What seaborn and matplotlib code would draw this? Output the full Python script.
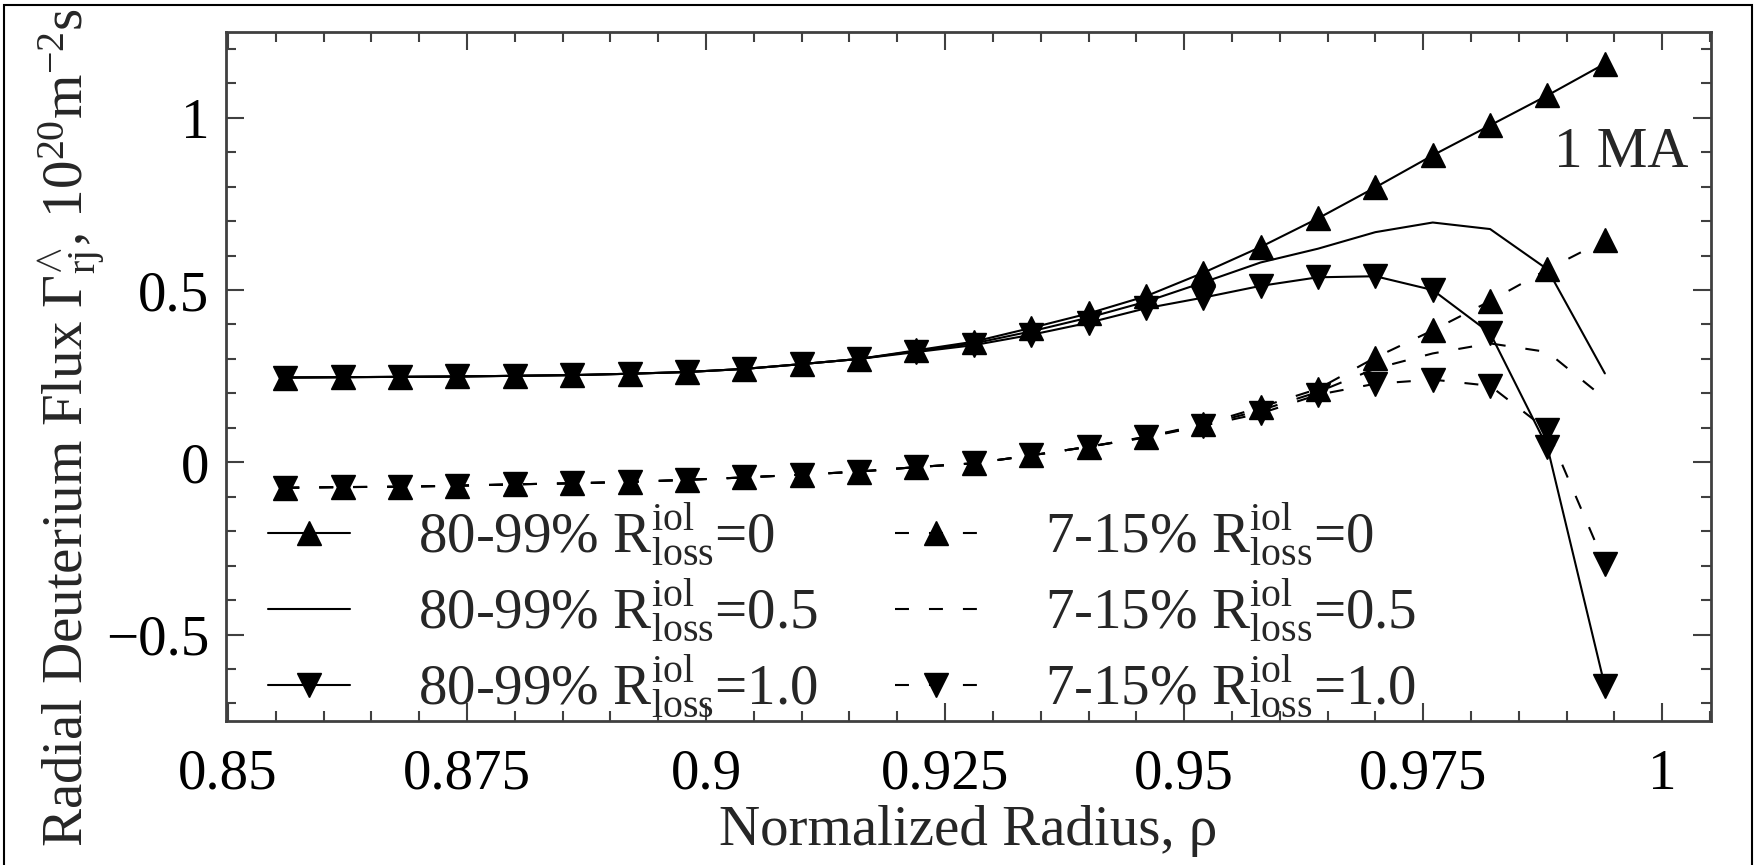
import matplotlib
matplotlib.use("Agg")
import matplotlib.pyplot as plt
import seaborn as sns
from matplotlib.ticker import MultipleLocator, FuncFormatter
from matplotlib.patches import Rectangle

# ---------------- data ----------------
rho = [0.856, 0.862, 0.868, 0.874, 0.880, 0.886, 0.892, 0.898, 0.904, 0.910, 0.916, 0.922,
       0.928, 0.934, 0.940, 0.946, 0.952, 0.958, 0.964, 0.970, 0.976, 0.982, 0.988, 0.994]

flux_8099_r00 = [0.246, 0.247, 0.248, 0.249, 0.251, 0.253, 0.257, 0.262, 0.271, 0.285, 0.300, 0.325,
                 0.350, 0.390, 0.432, 0.482, 0.550, 0.625, 0.708, 0.798, 0.891, 0.978, 1.065, 1.157]
flux_8099_r05 = [0.246, 0.247, 0.248, 0.249, 0.251, 0.253, 0.257, 0.262, 0.271, 0.285, 0.300, 0.323,
                 0.345, 0.380, 0.420, 0.466, 0.522, 0.580, 0.620, 0.668, 0.696, 0.677, 0.560, 0.258]
flux_8099_r10 = [0.246, 0.247, 0.248, 0.249, 0.251, 0.253, 0.257, 0.262, 0.271, 0.285, 0.300, 0.320,
                 0.340, 0.370, 0.405, 0.447, 0.478, 0.512, 0.537, 0.540, 0.500, 0.375, 0.043, -0.650]

flux_0715_r00 = [-0.074, -0.072, -0.071, -0.068, -0.064, -0.061, -0.057, -0.051, -0.044, -0.036, -0.027, -0.014,
                 -0.003, 0.020, 0.045, 0.074, 0.110, 0.160, 0.213, 0.304, 0.383, 0.468, 0.560, 0.645]
flux_0715_r05 = [-0.074, -0.072, -0.071, -0.068, -0.064, -0.061, -0.057, -0.051, -0.044, -0.036, -0.027, -0.014,
                 -0.003, 0.020, 0.045, 0.073, 0.108, 0.151, 0.204, 0.272, 0.316, 0.345, 0.320, 0.185]
flux_0715_r10 = [-0.074, -0.072, -0.071, -0.068, -0.064, -0.061, -0.057, -0.051, -0.044, -0.036, -0.027, -0.014,
                 -0.003, 0.020, 0.045, 0.072, 0.106, 0.142, 0.196, 0.228, 0.240, 0.222, 0.093, -0.296]

labels = [r"80-99% $\mathrm{R}^{\mathrm{iol}}_{\mathrm{loss}}$=0",
          r"80-99% $\mathrm{R}^{\mathrm{iol}}_{\mathrm{loss}}$=0.5",
          r"80-99% $\mathrm{R}^{\mathrm{iol}}_{\mathrm{loss}}$=1.0",
          r"7-15% $\mathrm{R}^{\mathrm{iol}}_{\mathrm{loss}}$=0",
          r"7-15% $\mathrm{R}^{\mathrm{iol}}_{\mathrm{loss}}$=0.5",
          r"7-15% $\mathrm{R}^{\mathrm{iol}}_{\mathrm{loss}}$=1.0"]

x_ticks = [0.85, 0.875, 0.9, 0.925, 0.95, 0.975, 1.0]
y_ticks = [-0.5, 0, 0.5, 1.0]

# ---------------- style ----------------
sns.set_theme(style="ticks")
plt.rcParams["font.family"] = ["Liberation Serif", "DejaVu Serif"]
plt.rcParams["mathtext.fontset"] = "custom"
plt.rcParams["mathtext.rm"] = "Liberation Serif"
plt.rcParams["mathtext.it"] = "Liberation Serif:italic"
plt.rcParams["mathtext.bf"] = "Liberation Serif:bold"
plt.rcParams["axes.unicode_minus"] = True
FS = 41
SPINE = "#404040"

W, H = 1754, 865
fig = plt.figure(figsize=(W / 100, H / 100), dpi=100)
ax = fig.add_axes([226 / W, 1 - 721 / H, (1711 - 226) / W, (721 - 32) / H])

dash = (0, (6.7, 9.6))
series = [
    (flux_8099_r00, "-", "^"),
    (flux_8099_r05, "-", "None"),
    (flux_8099_r10, "-", "v"),
    (flux_0715_r00, dash, "^"),
    (flux_0715_r05, dash, "None"),
    (flux_0715_r10, dash, "v"),
]
for (vals, ls, mk), lab in zip(series, labels):
    sns.lineplot(x=rho, y=vals, ax=ax, color="black", linestyle=ls, marker=mk,
                 markersize=17, markeredgewidth=1, markeredgecolor="black",
                 markerfacecolor="black", linewidth=1.5, label=lab,
                 errorbar=None, sort=False, legend=False)

ax.set_xlim(0.8498, 1.0051)
ax.set_ylim(-0.751, 1.249)

ax.set_xticks(x_ticks)
ax.set_yticks(y_ticks)
ax.xaxis.set_minor_locator(MultipleLocator(0.005))
ax.yaxis.set_minor_locator(MultipleLocator(0.1))
ax.xaxis.set_major_formatter(FuncFormatter(lambda v, p: "%g" % round(v, 4)))
ax.yaxis.set_major_formatter(FuncFormatter(lambda v, p: ("%g" % round(v, 4)).replace("-", "\u2212")))

ax.tick_params(which="both", direction="in", top=True, right=True, color=SPINE, width=1.5,
               labelsize=FS, labelcolor="black")
ax.tick_params(which="major", length=13)
ax.tick_params(which="minor", length=7)
ax.tick_params(axis="x", which="major", pad=20)
ax.tick_params(axis="y", which="major", pad=12)
for s in ax.spines.values():
    s.set_color(SPINE)
    s.set_linewidth(2)

ax.set_xlabel("Normalized Radius, \u03c1", fontsize=FS, va="baseline")
ax.xaxis.set_label_coords(0.5, -0.18)
ax.set_ylabel(r"Radial Deuterium Flux $\Gamma^{\wedge}_{\mathrm{rj}}$, 10$^{20}$m$^{-2}$s",
              fontsize=FS, ha="left", va="baseline")
ax.yaxis.set_label_coords((84 - 226) / 1485, -0.183)

ax.text(1.0027, 0.856, "1 MA", ha="right", va="baseline", fontsize=FS)

ax.legend(ncol=2, loc="lower left", bbox_to_anchor=(0.028, 0.002), frameon=False,
          fontsize=FS, handlelength=1.44, handletextpad=1.2, columnspacing=1.35,
          labelspacing=0.15, borderpad=0, borderaxespad=0, numpoints=1)

fig.add_artist(Rectangle((4 / W, -0.02), (1752 - 4) / W, 1 - 5 / H + 0.02,
                         transform=fig.transFigure, fill=False, edgecolor="black", lw=1.5))

fig.savefig("out.png", dpi=100)
